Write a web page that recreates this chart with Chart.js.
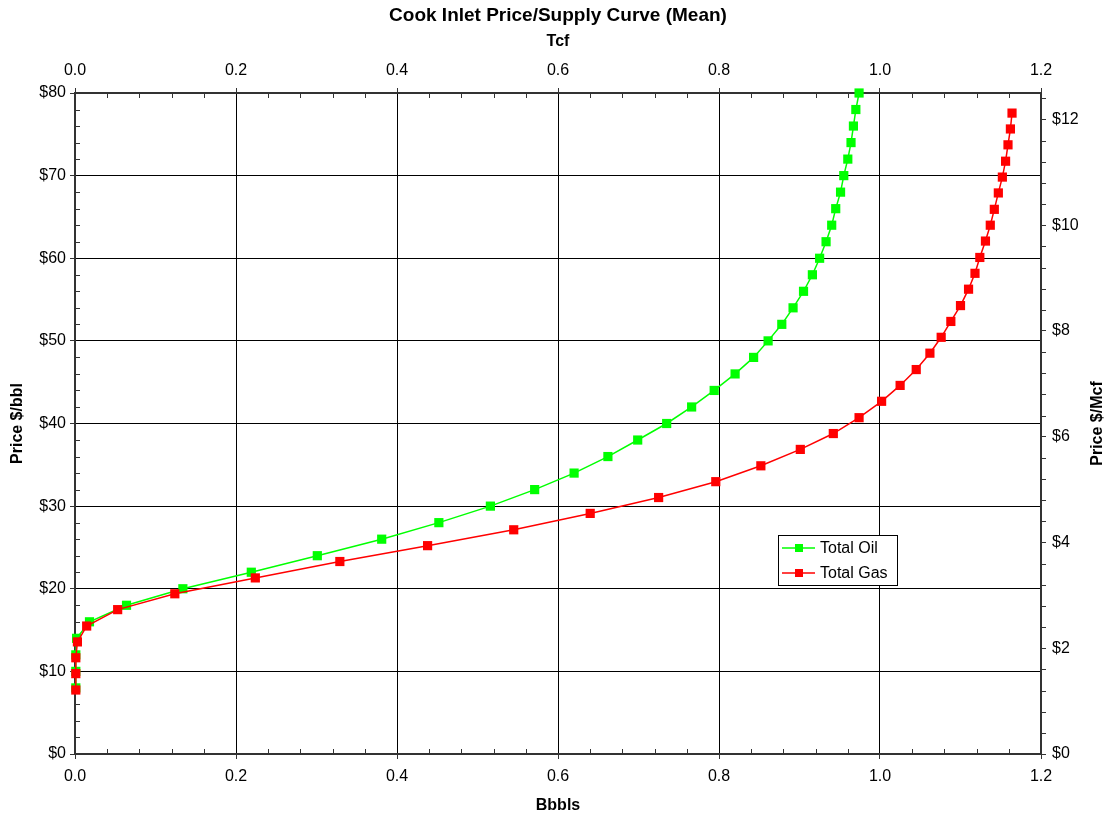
<!DOCTYPE html>
<html>
<head>
  <meta charset="utf-8">
  <script src="https://cdn.jsdelivr.net/npm/chart.js@4.4.1/dist/chart.umd.min.js"></script>
  <style>
    body { margin: 0; background: #fff; }
    #wrap { width: 1109px; height: 818px; }
  </style>
</head>
<body>
<div id="wrap">
  <canvas id="supplyChart" width="1109" height="818"></canvas>
</div>

<script type="text/javascript">
  // Oil: price ($/bbl) against cumulative volume (Bbbls)
  const oilPrice = [8, 10, 12, 14, 16, 18, 20, 22, 24, 26, 28, 30, 32, 34, 36, 38, 40, 42, 44,
                    46, 48, 50, 52, 54, 56, 58, 60, 62, 64, 66, 68, 70, 72, 74, 76, 78, 80];
  const oilVolume = [0.001, 0.001, 0.001, 0.002, 0.018, 0.064, 0.134, 0.219, 0.301, 0.381,
                     0.452, 0.516, 0.571, 0.620, 0.662, 0.699, 0.735, 0.766, 0.794, 0.820,
                     0.843, 0.861, 0.878, 0.892, 0.905, 0.916, 0.925, 0.933, 0.940, 0.945,
                     0.951, 0.955, 0.960, 0.964, 0.967, 0.970, 0.974];

  // Gas: price ($/Mcf) against cumulative volume (Tcf)
  const gasPrice = [1.21, 1.52, 1.82, 2.12, 2.42, 2.73, 3.03, 3.33, 3.64, 3.94, 4.24, 4.55,
                    4.85, 5.15, 5.45, 5.76, 6.06, 6.36, 6.67, 6.97, 7.27, 7.58, 7.88, 8.18,
                    8.48, 8.79, 9.09, 9.39, 9.70, 10.00, 10.30, 10.61, 10.91, 11.21, 11.52,
                    11.82, 12.12];
  const gasVolume = [0.001, 0.001, 0.001, 0.003, 0.0145, 0.053, 0.124, 0.224, 0.329, 0.438,
                     0.545, 0.640, 0.725, 0.796, 0.852, 0.901, 0.942, 0.974, 1.002, 1.025,
                     1.045, 1.062, 1.076, 1.088, 1.100, 1.110, 1.118, 1.124, 1.131, 1.137,
                     1.142, 1.147, 1.152, 1.156, 1.159, 1.162, 1.164];

  const chartTitle = 'Cook Inlet Price/Supply Curve (Mean)';
  const oilAxisTitle = 'Price $/bbl';
  const gasAxisTitle = 'Price $/Mcf';

  const FONT = "'Liberation Sans', Arial, sans-serif";
  const AXIS = '#333';

  Chart.defaults.font.family = FONT;
  Chart.defaults.color = '#000';

  function toPoints(xs, ys) {
    return xs.map((x, i) => ({ x: x, y: ys[i] }));
  }

  // title, right axis title, legend box and the small inside ticks
  const extras = {
    id: 'extras',
    beforeDatasetsDraw(chart) {
      const { ctx, chartArea: a, scales } = chart;
      ctx.save();
      ctx.strokeStyle = AXIS;
      ctx.lineWidth = 1;
      ctx.beginPath();
      for (let i = 1; i < 40; i++) {
        if (i % 5 === 0) continue;
        const y = Math.round(scales.y.getPixelForValue(i * 2)) + 0.5;
        ctx.moveTo(a.left, y); ctx.lineTo(a.left + 5, y);
      }
      for (let i = 1; i < 30; i++) {
        if (i % 5 === 0) continue;
        const xb = Math.round(scales.x.getPixelForValue(i * 0.04)) + 0.5;
        ctx.moveTo(xb, a.bottom); ctx.lineTo(xb, a.bottom - 5);
        const xt = Math.round(scales.x2.getPixelForValue(i * 0.04)) + 0.5;
        ctx.moveTo(xt, a.top); ctx.lineTo(xt, a.top + 5);
      }
      for (let i = 1; i <= 31; i++) {
        if (i % 5 === 0) continue;
        const y = Math.round(scales.y2.getPixelForValue(i * 0.4)) + 0.5;
        ctx.moveTo(a.right, y); ctx.lineTo(a.right + 5, y);
      }
      ctx.stroke();
      ctx.restore();
    },
    afterDraw(chart) {
      const { ctx, chartArea: a } = chart;
      ctx.save();
      ctx.fillStyle = '#000';
      ctx.textAlign = 'center';
      ctx.textBaseline = 'middle';
      ctx.font = 'bold 19px ' + FONT;
      ctx.fillText(chartTitle, (a.left + a.right) / 2, 16);

      ctx.font = 'bold 16px ' + FONT;
      ctx.translate(1098, (a.top + a.bottom) / 2);
      ctx.rotate(-Math.PI / 2);
      ctx.fillText(gasAxisTitle, 0, 0);
      ctx.restore();

      // legend
      const bx = 778, by = 535, bw = 119, bh = 50;
      ctx.save();
      ctx.fillStyle = '#fff';
      ctx.fillRect(bx, by, bw, bh);
      ctx.strokeStyle = '#000';
      ctx.lineWidth = 1;
      ctx.strokeRect(bx + 0.5, by + 0.5, bw, bh);
      ctx.font = '16px ' + FONT;
      ctx.textAlign = 'left';
      ctx.textBaseline = 'middle';
      [chart.data.datasets[1], chart.data.datasets[0]].forEach((ds, i) => {
        const y = by + 13 + i * 25;
        ctx.strokeStyle = ds.borderColor;
        ctx.lineWidth = 1.5;
        ctx.beginPath();
        ctx.moveTo(bx + 4, y); ctx.lineTo(bx + 37, y);
        ctx.stroke();
        ctx.fillStyle = ds.backgroundColor;
        ctx.fillRect(bx + 17, y - 4, 8, 8);
        ctx.fillStyle = '#000';
        ctx.fillText(ds.label, bx + 42, y + 1);
      });
      ctx.restore();
    }
  };

  const ctx = document.getElementById('supplyChart').getContext('2d');

  new Chart(ctx, {
    type: 'scatter',
    data: {
      datasets: [{
        label: 'Total Gas',
        data: toPoints(gasVolume, gasPrice),
        xAxisID: 'x2',
        yAxisID: 'y2',
        borderColor: '#ff0000',
        backgroundColor: '#ff0000',
        borderWidth: 1.5,
        showLine: true,
        tension: 0,
        pointStyle: 'rect',
        pointRadius: 6.5,
        pointBorderWidth: 0,
        clip: false,
        order: 0
      }, {
        label: 'Total Oil',
        data: toPoints(oilVolume, oilPrice),
        xAxisID: 'x',
        yAxisID: 'y',
        borderColor: '#00ff00',
        backgroundColor: '#00ff00',
        borderWidth: 1.5,
        showLine: true,
        tension: 0,
        pointStyle: 'rect',
        pointRadius: 6.5,
        pointBorderWidth: 0,
        clip: false,
        order: 1
      }]
    },
    options: {
      responsive: false,
      animation: false,
      layout: { padding: 0 },
      plugins: {
        legend: { display: false },
        title: { display: false },
        tooltip: { enabled: false }
      },
      scales: {
        x: {
          type: 'linear',
          position: 'bottom',
          min: 0,
          max: 1.2,
          afterFit: (s) => { s.height = 64; },
          ticks: { stepSize: 0.2, padding: 8, font: { size: 16 }, callback: (v) => Number(v).toFixed(1) },
          grid: { color: '#000', lineWidth: 1, tickLength: 5, tickColor: AXIS },
          border: { color: AXIS, width: 2 },
          title: { display: true, text: 'Bbbls', font: { size: 16, weight: 'bold' }, padding: { top: 0, bottom: 3 } }
        },
        x2: {
          type: 'linear',
          position: 'top',
          min: 0,
          max: 1.2,
          afterFit: (s) => { s.height = 93; },
          ticks: { stepSize: 0.2, padding: 8, font: { size: 16 }, callback: (v) => Number(v).toFixed(1) },
          grid: { drawOnChartArea: false, tickLength: 5, tickColor: AXIS },
          border: { color: AXIS, width: 2 },
          title: { display: true, text: 'Tcf', font: { size: 16, weight: 'bold' }, padding: { top: 32, bottom: 0 } }
        },
        y: {
          type: 'linear',
          position: 'left',
          min: 0,
          max: 80,
          afterFit: (s) => { s.width = 75; },
          ticks: { stepSize: 10, padding: 4, font: { size: 16 }, callback: (v) => '$' + v },
          grid: { color: '#000', lineWidth: 1, tickLength: 5, tickColor: AXIS },
          border: { color: AXIS, width: 2 },
          title: { display: true, text: oilAxisTitle, font: { size: 16, weight: 'bold' }, padding: { top: 8, bottom: 0 } }
        },
        y2: {
          type: 'linear',
          position: 'right',
          min: 0,
          max: 12.5,
          afterFit: (s) => { s.width = 68; },
          afterBuildTicks: (s) => { s.ticks = s.ticks.filter((t) => t.value % 2 === 0); },
          ticks: { stepSize: 2, padding: 6, font: { size: 16 }, callback: (v) => '$' + v },
          grid: { drawOnChartArea: false, tickLength: 5, tickColor: AXIS },
          border: { color: AXIS, width: 2 }
        }
      }
    },
    plugins: [extras]
  });
</script>
</body>
</html>
